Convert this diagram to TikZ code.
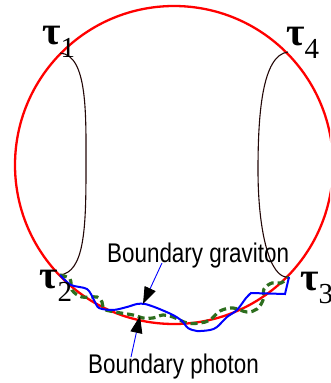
\documentclass[tikz,border=0pt]{standalone}
\usepackage{fontspec}
\setmainfont{Liberation Serif}
\newfontfamily\labelfont[FakeStretch=0.83]{Liberation Sans}
\usetikzlibrary{arrows.meta}
\definecolor{loopbrown}{RGB}{35,8,8}
\definecolor{dashgreen}{RGB}{45,110,30}
\newcommand{\taulabel}[1]{{\fontsize{40}{40}\selectfont\bfseries τ}\raisebox{-13pt}{\fontsize{29}{29}\selectfont #1}}

\begin{document}
\begin{tikzpicture}[x=1pt,y=-1pt,
    tau/.style={anchor=base west,inner sep=0pt},
    bdry/.style={anchor=base west,inner sep=0pt,font=\labelfont\fontsize{27}{27}\selectfont},
    pointer/.style={blue,line width=0.9pt,-{Triangle[color=black,length=17pt,width=12pt]}}]
    \clip (0,0) rectangle (330,383);
    % boundary circle
    \draw[red,line width=2.3pt] (174,165) circle[radius=159];

    % insertion points on the boundary
    \coordinate (t1) at (60,53);
    \coordinate (t2) at (60,275);
    \coordinate (t3) at (289,277);
    \coordinate (t4) at (288,52);

    % the two bulk loops
    \draw[loopbrown,line width=1.1pt] (t1) .. controls (88,55) and (86,115) .. (86,170)
        .. controls (86,230) and (84,272) .. (t2);
    \draw[loopbrown,line width=1.1pt] (t4) .. controls (262,55) and (258,115) .. (258,170)
        .. controls (258,232) and (270,280) .. (t3);

    % boundary photon (dashed) and boundary graviton
    \draw[dashgreen,line width=3.2pt,dash pattern=on 7pt off 4pt] plot[smooth,tension=0.6] coordinates {
        (t2) (70,279) (72,290) (82,297) (97,297) (102,302) (104,309) (115,312) (133,315)
        (143,318) (153,318) (163,315) (173,317) (187,323) (200,323) (210,320) (220,311)
        (233,308) (247,312) (257,309) (263,300) (264,289) (272,283) (281,283) (t3)};
    \draw[blue,line width=2pt] plot[smooth,tension=0.5] coordinates {
        (t2) (71,285) (87,289) (94,300) (99,308) (113,310) (127,307) (137,304) (145,304)
        (157,308) (173,315) (182,321) (188,328) (197,331) (210,330) (217,327) (227,317)
        (237,310) (246,298) (251,293)} -- (285,294) -- (t3);

    % labels
    \node[tau] (lt1) at (42,44) {\taulabel{1}};
    \node[tau] (lt2) at (39,288) {\taulabel{2}};
    \node[tau] (lt3) at (300,290) {\taulabel{3}};
    \node[tau] (lt4) at (286,45) {\taulabel{4}};

    \node[bdry] (grav) at (107,262) {Boundary graviton};
    \node[bdry] (phot) at (88,373) {Boundary photon};

    \coordinate (gravfoot) at (162,263);
    \coordinate (gravtip) at (143,304);
    \coordinate (photfoot) at (131,357);
    \coordinate (phottip) at (140,316);
    \draw[pointer] (gravfoot) -- (gravtip);
    \draw[pointer] (photfoot) -- (phottip);
\end{tikzpicture}
\end{document}
